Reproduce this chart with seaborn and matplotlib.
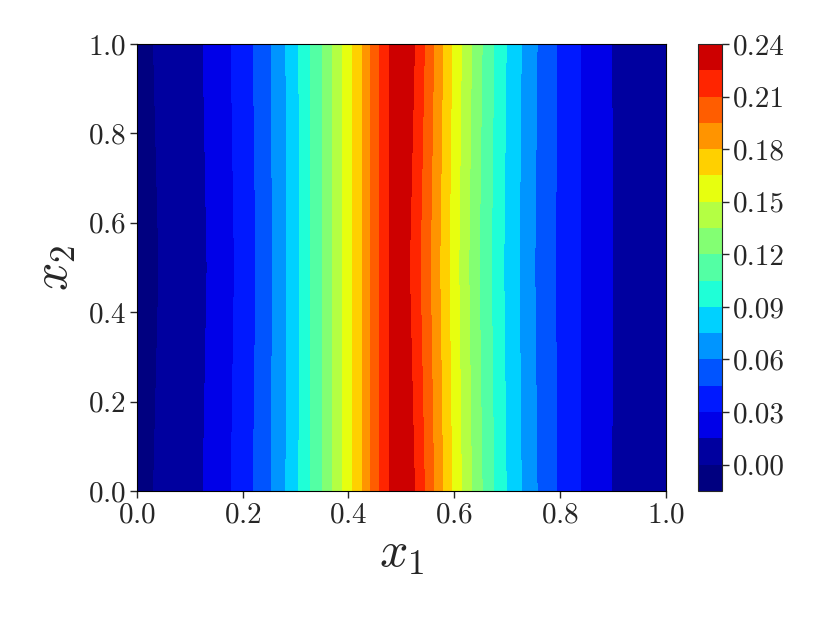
import numpy as np
import matplotlib
matplotlib.use("Agg")
import matplotlib.pyplot as plt
from matplotlib.colors import Normalize
import seaborn as sns

# grid of the field
x1 = [0.000, 0.025, 0.050, 0.075, 0.100, 0.125, 0.150, 0.175, 0.200, 0.225,
      0.250, 0.275, 0.300, 0.325, 0.350, 0.375, 0.400, 0.425, 0.450, 0.475,
      0.500, 0.525, 0.550, 0.575, 0.600, 0.625, 0.650, 0.675, 0.700, 0.725,
      0.750, 0.775, 0.800, 0.825, 0.850, 0.875, 0.900, 0.925, 0.950, 0.975, 1.000]
x2 = [0.0, 0.5, 1.0]

# profile at x2 = 0 and x2 = 1
u_edge = [-0.005, -0.001, 0.003, 0.007, 0.011, 0.015, 0.022, 0.029, 0.037, 0.047,
          0.058, 0.071, 0.086, 0.102, 0.120, 0.139, 0.158, 0.179, 0.202, 0.224,
          0.238, 0.225, 0.205, 0.183, 0.161, 0.141, 0.122, 0.105, 0.089, 0.076,
          0.063, 0.052, 0.043, 0.034, 0.027, 0.0205, 0.0145, 0.010, 0.0065, 0.003, 0.001]
# profile at x2 = 0.5
u_mid = [-0.007, -0.003, 0.0015, 0.0055, 0.0095, 0.013, 0.0195, 0.027, 0.035, 0.045,
         0.0565, 0.070, 0.085, 0.102, 0.120, 0.139, 0.158, 0.179, 0.202, 0.224,
         0.236, 0.218, 0.199, 0.178, 0.157, 0.137, 0.118, 0.102, 0.086, 0.074,
         0.061, 0.051, 0.042, 0.034, 0.027, 0.021, 0.015, 0.0105, 0.007, 0.0035, 0.0015]

cbar_ticks = [0.00, 0.03, 0.06, 0.09, 0.12, 0.15, 0.18, 0.21, 0.24]

sns.set_style("ticks")
plt.rcParams["font.family"] = "serif"
plt.rcParams["font.serif"] = ["cmr10", "DejaVu Serif"]
plt.rcParams["mathtext.fontset"] = "cm"
plt.rcParams["axes.formatter.use_mathtext"] = True
plt.rcParams["axes.unicode_minus"] = False

X, Y = np.meshgrid(x1, x2)
U = np.array([u_edge, u_mid, u_edge])

fig = plt.figure(figsize=(8.3, 6.23), dpi=100)
ax = fig.add_axes([0.165, 0.212, 0.637, 0.7175])
cax = fig.add_axes([0.841, 0.212, 0.029, 0.7175])

levels = np.linspace(-0.015, 0.24, 18)
cs = ax.contourf(X, Y, U, levels=levels, cmap="jet",
                 norm=Normalize(vmin=0.0, vmax=0.25))
ax.set_xlim(0, 1)
ax.set_ylim(0, 1)
ax.set_xticks([0, 0.2, 0.4, 0.6, 0.8, 1.0])
ax.set_yticks([0, 0.2, 0.4, 0.6, 0.8, 1.0])
ax.tick_params(labelsize=21, direction="out", length=5, width=1, pad=3)
ax.set_xlabel(r"$x_1$", fontsize=36, labelpad=2)
ax.set_ylabel(r"$x_2$", fontsize=36, labelpad=7)
for s in ax.spines.values():
    s.set_visible(True)
    s.set_color("black")

cb = fig.colorbar(cs, cax=cax, ticks=cbar_ticks)
cb.ax.set_yticklabels([f"{t:.2f}" for t in cbar_ticks])
cb.ax.tick_params(labelsize=21, length=5, width=1, pad=3)

fig.savefig("out.png", dpi=100)
